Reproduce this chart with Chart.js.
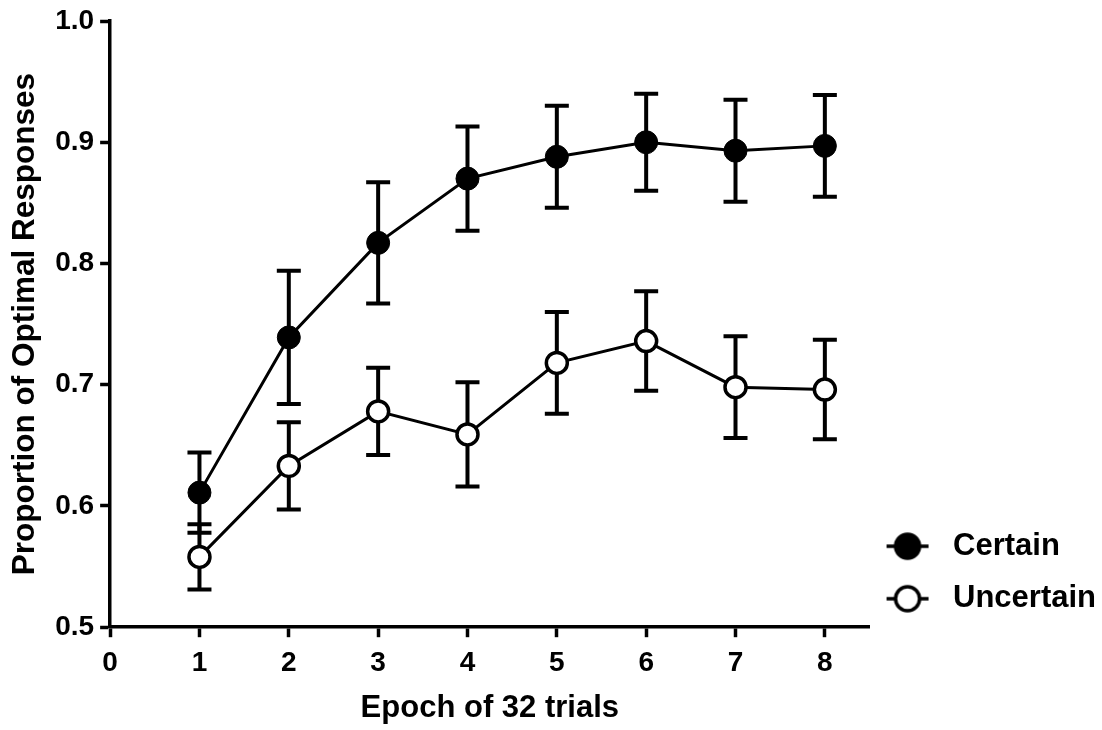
<!DOCTYPE html>
<html>
<head>
<meta charset="utf-8">
<script src="https://cdn.jsdelivr.net/npm/chart.js@4.4.1/dist/chart.umd.min.js"></script>
<style>
  html, body { margin: 0; padding: 0; background: #fff; }
  #wrap { width: 1102px; height: 730px; position: relative; }
</style>
</head>
<body>
<div id="wrap"><canvas id="c" width="1102" height="730"></canvas></div>
<script>
const epochs = [1, 2, 3, 4, 5, 6, 7, 8];
const certain = [0.611, 0.739, 0.817, 0.870, 0.888, 0.900, 0.893, 0.897];
const certainErr = [0.033, 0.055, 0.050, 0.043, 0.042, 0.040, 0.042, 0.042];
const uncertain = [0.558, 0.633, 0.678, 0.659, 0.718, 0.736, 0.698, 0.696];
const uncertainErr = [0.027, 0.036, 0.036, 0.043, 0.042, 0.041, 0.042, 0.041];
const xTicks = [0, 1, 2, 3, 4, 5, 6, 7, 8];
const yTicks = [0.5, 0.6, 0.7, 0.8, 0.9, 1.0];
const seriesNames = ['Certain', 'Uncertain'];
const xTitle = 'Epoch of 32 trials';
const yTitle = 'Proportion of Optimal Responses';

const FONT = '"Liberation Sans", Arial, Helvetica, sans-serif';

function legendIcon(filled) {
  const c = document.createElement('canvas');
  c.width = 55; c.height = 32;
  const g = c.getContext('2d');
  g.strokeStyle = '#000';
  g.lineWidth = 3.5;
  g.beginPath(); g.moveTo(4, 16); g.lineTo(46, 16); g.stroke();
  g.beginPath(); g.arc(25, 16, 12, 0, Math.PI * 2);
  g.fillStyle = filled ? '#000' : '#fff';
  g.fill();
  g.lineWidth = 3.5;
  g.stroke();
  return c;
}
const icons = [legendIcon(true), legendIcon(false)];

const errorBars = {
  id: 'errorBars',
  beforeDatasetsDraw(chart) {
    const ctx = chart.ctx;
    const xs = chart.scales.x, ys = chart.scales.y;
    const errs = [certainErr, uncertainErr];
    ctx.save();
    ctx.strokeStyle = '#000';
    ctx.lineWidth = 4;
    ctx.lineCap = 'butt';
    chart.data.datasets.forEach((ds, di) => {
      ds.data.forEach((p, i) => {
        const e = errs[di][i];
        const x = xs.getPixelForValue(p.x);
        const yt = ys.getPixelForValue(p.y + e);
        const yb = ys.getPixelForValue(p.y - e);
        const cap = 12;
        ctx.beginPath();
        ctx.moveTo(x, yt); ctx.lineTo(x, yb);
        ctx.moveTo(x - cap, yt); ctx.lineTo(x + cap, yt);
        ctx.moveTo(x - cap, yb); ctx.lineTo(x + cap, yb);
        ctx.stroke();
      });
    });
    ctx.restore();
  }
};

new Chart(document.getElementById('c'), {
  type: 'line',
  data: {
    datasets: [
      {
        label: seriesNames[0],
        data: epochs.map((e, i) => ({ x: e, y: certain[i] })),
        borderColor: '#000',
        borderWidth: 3,
        backgroundColor: '#000',
        pointBackgroundColor: '#000',
        pointBorderColor: '#000',
        pointBorderWidth: 1,
        pointRadius: 11.5,
        pointHoverRadius: 11.5,
        tension: 0
      },
      {
        label: seriesNames[1],
        data: epochs.map((e, i) => ({ x: e, y: uncertain[i] })),
        borderColor: '#000',
        borderWidth: 3,
        backgroundColor: '#fff',
        pointBackgroundColor: '#fff',
        pointBorderColor: '#000',
        pointBorderWidth: 3.5,
        pointRadius: 10.5,
        pointHoverRadius: 10.5,
        tension: 0
      }
    ]
  },
  options: {
    responsive: false,
    animation: false,
    events: [],
    layout: { padding: { top: 21, left: 0, right: -4, bottom: 0 } },
    scales: {
      x: {
        type: 'linear',
        min: 0,
        max: 8.5,
        afterBuildTicks(s) { s.ticks = xTicks.map(v => ({ value: v })); },
        border: { display: true, color: '#000', width: 3.5 },
        grid: { display: true, drawOnChartArea: false, drawTicks: true, tickLength: 10, tickWidth: 3.5, tickColor: '#000' },
        ticks: { color: '#000', font: { family: FONT, size: 28, weight: 'bold' }, padding: 9, maxRotation: 0, autoSkip: false, callback: v => String(v) },
        title: { display: true, text: xTitle, color: '#000', font: { family: FONT, size: 31, weight: 'bold' }, padding: { top: 1, bottom: 3 } }
      },
      y: {
        type: 'linear',
        min: 0.5,
        max: 1.0,
        afterBuildTicks(s) { s.ticks = yTicks.map(v => ({ value: v })); },
        border: { display: true, color: '#000', width: 3.5 },
        grid: { display: true, drawOnChartArea: false, drawTicks: true, tickLength: 10, tickWidth: 3.5, tickColor: '#000' },
        ticks: { color: '#000', font: { family: FONT, size: 28, weight: 'bold', lineHeight: 1 }, padding: 6, autoSkip: false, callback: v => Number(v).toFixed(1) },
        title: { display: true, text: yTitle, color: '#000', font: { family: FONT, size: 31.5, weight: 'bold' }, padding: { top: 6.5, bottom: 4.9 } }
      }
    },
    plugins: {
      tooltip: { enabled: false },
      legend: {
        display: true,
        position: 'right',
        align: 'end',
        fullSize: false,
        labels: {
          usePointStyle: true,
          pointStyleWidth: 55,
          padding: 13,
          color: '#000',
          font: { family: FONT, size: 31, weight: 'bold', lineHeight: 1.274 },
          generateLabels(chart) {
            return chart.data.datasets.map((ds, i) => ({
              text: i === 0 ? [ds.label] : ds.label,
              pointStyle: icons[i],
              fillStyle: '#000',
              strokeStyle: '#000',
              lineWidth: 0,
              fontColor: '#000',
              hidden: false,
              datasetIndex: i
            }));
          }
        }
      }
    }
  },
  plugins: [errorBars]
});
</script>
</body>
</html>
